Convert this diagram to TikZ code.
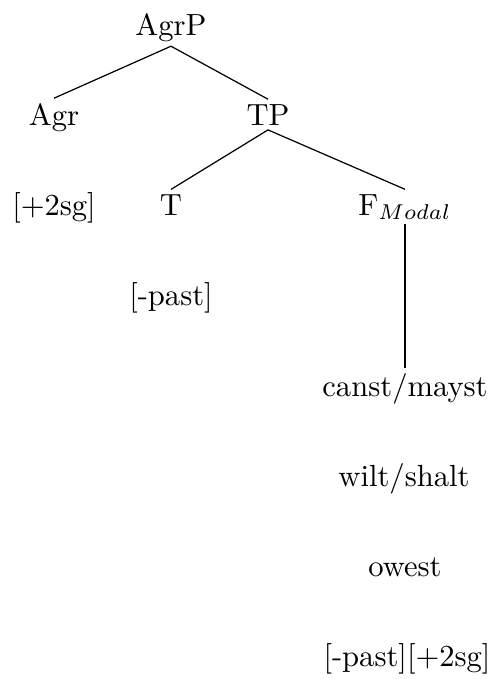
\documentclass[tikz,border=0pt]{standalone}
\begin{document}
\begin{tikzpicture}[x=0.3268pt,y=-0.3268pt,
  lbl/.style={anchor=base,inner sep=1.6pt,outer sep=0pt},
  edge/.style={draw=black,line width=0.4pt}]
\useasboundingbox (0,0) rectangle (493,679);
\node[lbl] (agrp) at (171,35) {AgrP};
\node[lbl] (agr) at (54,125) {Agr};
\node[lbl] (tp) at (268,125) {TP};
\node[lbl] (sg) at (54,215) {[$+$2sg]};
\node[lbl] (t) at (171,215) {T};
\node[lbl] (f) at (405,215) {F$_{Modal}$};
\node[lbl] (past) at (171,305) {[-past]};
\node[lbl] (canst) at (405,396) {canst$/$mayst};
\node[lbl] (wilt) at (404,486) {wilt$/$shalt};
\node[lbl] (owest) at (405,576) {owest};
\node[lbl] (feat) at (407,666) {[-past][$+$2sg]};
\draw[edge] (agrp.south) -- (agr.north);
\draw[edge] (agrp.south) -- (tp.north);
\draw[edge] (tp.south) -- (t.north);
\draw[edge] (tp.south) -- (f.north);
\draw[edge] (f.south) -- (canst.north);
\end{tikzpicture}
\end{document}
